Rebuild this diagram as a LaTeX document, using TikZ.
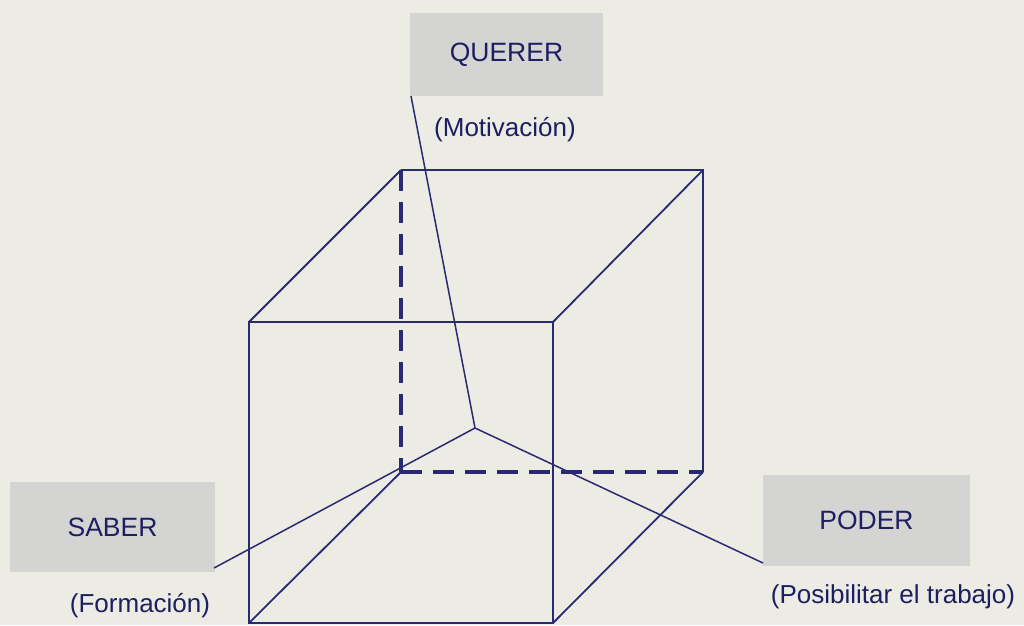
\documentclass[tikz,border=0pt]{standalone}
\usepackage{fontspec}
\setmainfont{Liberation Sans}
\definecolor{bgc}{HTML}{ECECE4}
\definecolor{boxc}{HTML}{D4D4D2}
\definecolor{linec}{HTML}{2A2A72}
\definecolor{textc}{HTML}{1E1E62}
\tikzset{
  lbox/.style={fill=boxc, draw=none, inner sep=0pt, text=textc, font=\fontsize{26.5}{30}\selectfont},
  lbl/.style={inner sep=0pt, text=textc, font=\fontsize{26}{30}\selectfont},
  edge/.style={draw=linec, line width=1.8pt},
  hidden/.style={draw=linec, line width=3.5pt, dash pattern=on 21pt off 11pt},
  conn/.style={draw=linec, line width=1.5pt}
}
\begin{document}
\begin{tikzpicture}[x=1pt,y=-1pt]
\fill[bgc] (0,0) rectangle (1024,625);
\useasboundingbox (0,0) rectangle (1024,625);
% boxes
\node[lbox, minimum width=193pt, minimum height=83pt] (quer) at (506.5,54.5) {QUERER};
\node[lbox, minimum width=205pt, minimum height=90pt] (sab) at (112.5,527) {SABER};
\node[lbox, minimum width=207pt, minimum height=91pt] (pod) at (866.5,520.5) {PODER};
% captions
\node[lbl] (motiv) at (505,130) {(Motivación)};
\node[lbl] (form) at (140,606) {(Formación)};
\node[lbl] (posib) at (893,597) {(Posibilitar el trabajo)};
% cube corners
\coordinate (ftl) at (249,322);
\coordinate (ftr) at (553,322);
\coordinate (fbl) at (249,623);
\coordinate (fbr) at (553,623);
\coordinate (btl) at (401,170);
\coordinate (btr) at (703,170);
\coordinate (bbl) at (401,472);
\coordinate (bbr) at (703,472);
\coordinate (ctr) at (475,428);
% hidden edges
\draw[hidden] (btl) -- (bbl);
\draw[hidden] (bbl) -- (bbr);
% visible edges
\draw[edge] (ftl) -- (ftr) -- (fbr) -- (fbl) -- cycle;
\draw[edge] (btl) -- (btr) -- (bbr);
\draw[edge] (ftl) -- (btl);
\draw[edge] (ftr) -- (btr);
\draw[edge] (fbr) -- (bbr);
\draw[edge] (fbl) -- (bbl);
% connectors
\coordinate (qend) at (411,96);
\coordinate (send) at (214,568);
\coordinate (pend) at (763,563);
\draw[conn] (ctr) -- (qend);
\draw[conn] (ctr) -- (send);
\draw[conn] (ctr) -- (pend);
\end{tikzpicture}
\end{document}
